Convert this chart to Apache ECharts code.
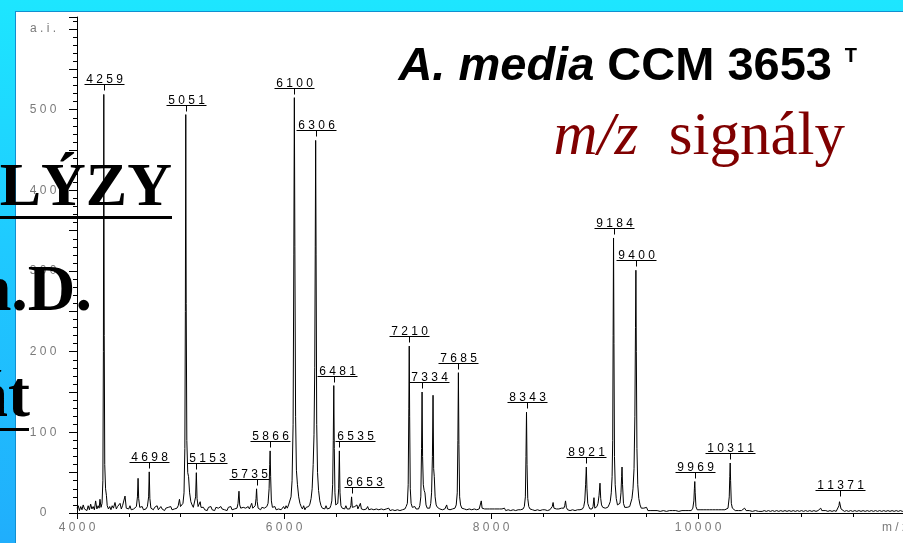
<!DOCTYPE html>
<html>
<head>
<meta charset="utf-8">
<script src="https://cdn.jsdelivr.net/npm/echarts@6.0.0/dist/echarts.min.js"></script>
<style>
  html, body { margin: 0; padding: 0; }
  #frame { position: absolute; left: 0; top: 0; width: 903px; height: 543px; overflow: hidden;
           background: linear-gradient(to bottom, #1de6ff 0%, #1fcaff 45%, #20aefc 100%); }
  #panel { position: absolute; left: 15px; top: 11px; right: 0; bottom: 0; background: #fff;
           border-left: 1px solid #128fd0; border-top: 1px solid #128fd0; }
  #chart { position: absolute; left: 0; top: 0; width: 903px; height: 543px; }
</style>
</head>
<body>
<div id="frame"><div id="panel"></div></div>
<div id="chart"></div>
<script>
// x ticks, y ticks
const xTicks = [4000, 6000, 8000, 10000];
const yTicks = [0, 100, 200, 300, 400, 500];

// labelled peaks (m/z, intensity a.i.)
const peakMz = [4259, 4698, 5051, 5153, 5735, 5866, 6100, 6306, 6481, 6535, 6653,
                7210, 7334, 7685, 8343, 8921, 9184, 9400, 9969, 10311, 11371];
const peakIntensity = [519, 51, 494, 50, 30, 77, 515, 462, 158, 77, 20,
                       207, 150, 174, 125, 57, 341, 301, 39, 62, 16];

// whole trace: [m/z, a.i.]
const spectrum = [
  [4000, 6], [4012, 9], [4024, 3], [4036, 8], [4048, 4], [4060, 10], [4072, 5], [4084, 7],
  [4096, 3], [4108, 9], [4120, 4], [4132, 11], [4144, 5], [4156, 8], [4168, 4], [4180, 15],
  [4192, 5], [4204, 9], [4214, 6], [4222, 17], [4232, 7], [4242, 12], [4250, 40], [4255, 200],
  [4259, 519], [4263, 220], [4268, 60], [4276, 30], [4284, 22], [4292, 9], [4304, 5], [4316, 8],
  [4328, 4], [4340, 9], [4352, 6], [4367, 13], [4380, 5], [4392, 8], [4404, 6], [4416, 12],
  [4428, 5], [4440, 9], [4452, 7], [4464, 21], [4476, 6], [4488, 8], [4500, 5], [4512, 9],
  [4524, 4], [4536, 6], [4548, 5], [4560, 7], [4574, 8], [4584, 20], [4590, 43], [4596, 18],
  [4606, 7], [4618, 5], [4630, 8], [4642, 4], [4654, 6], [4666, 5], [4680, 8], [4692, 20],
  [4698, 51], [4704, 18], [4714, 6], [4726, 8], [4738, 4], [4750, 7], [4762, 5], [4774, 9],
  [4786, 4], [4798, 6], [4810, 8], [4822, 5], [4834, 7], [4846, 3], [4858, 6], [4870, 4],
  [4882, 7], [4894, 5], [4906, 8], [4918, 4], [4930, 6], [4942, 5], [4954, 7], [4966, 6],
  [4978, 9], [4990, 17], [5000, 8], [5012, 6], [5024, 12], [5034, 25], [5042, 80], [5047, 250],
  [5051, 494], [5055, 260], [5061, 90], [5070, 50], [5078, 45], [5088, 25], [5100, 14], [5112, 10],
  [5124, 7], [5136, 9], [5146, 20], [5153, 50], [5160, 18], [5170, 8], [5182, 10], [5190, 14],
  [5198, 7], [5210, 5], [5222, 7], [5234, 4], [5246, 6], [5258, 3], [5270, 7], [5282, 5],
  [5294, 8], [5306, 4], [5318, 6], [5330, 3], [5342, 7], [5354, 5], [5366, 6], [5378, 4],
  [5390, 8], [5402, 5], [5414, 7], [5426, 4], [5438, 6], [5450, 3], [5462, 7], [5474, 5],
  [5486, 8], [5498, 4], [5510, 6], [5522, 5], [5534, 7], [5546, 6], [5556, 12], [5565, 27],
  [5572, 10], [5582, 6], [5594, 4], [5606, 7], [5618, 5], [5630, 6], [5642, 4], [5654, 8],
  [5666, 5], [5678, 9], [5688, 12], [5698, 6], [5710, 5], [5722, 9], [5730, 18], [5735, 30],
  [5741, 14], [5750, 6], [5762, 8], [5774, 4], [5786, 7], [5798, 5], [5810, 6], [5822, 4],
  [5834, 8], [5846, 12], [5856, 30], [5862, 60], [5866, 77], [5871, 45], [5878, 15], [5888, 7],
  [5900, 5], [5912, 8], [5924, 4], [5936, 6], [5948, 5], [5960, 7], [5972, 4], [5984, 6],
  [5996, 8], [6008, 5], [6020, 9], [6032, 6], [6044, 10], [6056, 12], [6068, 20], [6078, 40],
  [6088, 110], [6095, 320], [6100, 515], [6105, 330], [6112, 120], [6120, 53], [6130, 35], [6142, 20],
  [6154, 12], [6166, 8], [6178, 5], [6190, 9], [6202, 4], [6214, 7], [6226, 5], [6238, 8],
  [6250, 11], [6262, 18], [6272, 30], [6282, 60], [6290, 97], [6297, 180], [6302, 330], [6306, 462],
  [6310, 320], [6316, 110], [6324, 50], [6334, 28], [6346, 15], [6358, 9], [6370, 6], [6382, 8],
  [6394, 5], [6406, 9], [6418, 5], [6430, 7], [6442, 6], [6452, 9], [6462, 15], [6470, 35],
  [6476, 90], [6481, 158], [6486, 80], [6492, 25], [6500, 10], [6510, 8], [6520, 12], [6528, 30],
  [6535, 77], [6541, 25], [6550, 9], [6562, 6], [6574, 8], [6586, 5], [6598, 9], [6610, 5],
  [6622, 7], [6634, 5], [6646, 9], [6653, 20], [6660, 7], [6672, 5], [6684, 8], [6696, 6],
  [6705, 10], [6714, 5], [6726, 6], [6738, 12], [6748, 5], [6760, 7], [6772, 4], [6784, 6],
  [6796, 5], [6808, 8], [6820, 4], [6832, 6], [6844, 5], [6856, 7], [6868, 4], [6880, 6],
  [6892, 5], [6904, 7], [6916, 4], [6928, 6], [6940, 5], [6952, 7], [6964, 4], [6976, 6],
  [6988, 5], [7000, 4], [7012, 6], [7024, 3], [7036, 5], [7048, 4], [7060, 6], [7072, 3],
  [7084, 5], [7096, 4], [7108, 6], [7120, 3], [7132, 5], [7144, 4], [7156, 6], [7168, 5],
  [7180, 8], [7192, 12], [7200, 35], [7206, 130], [7210, 207], [7214, 120], [7220, 30], [7228, 12],
  [7240, 7], [7252, 5], [7264, 8], [7276, 5], [7288, 6], [7300, 5], [7312, 9], [7322, 20],
  [7329, 80], [7334, 150], [7339, 70], [7346, 35], [7354, 28], [7362, 25], [7372, 10], [7384, 6],
  [7396, 8], [7408, 6], [7418, 12], [7426, 25], [7434, 70], [7440, 146], [7446, 55], [7452, 45],
  [7460, 20], [7470, 10], [7482, 7], [7494, 9], [7506, 5], [7518, 7], [7530, 4], [7542, 6],
  [7554, 5], [7564, 7], [7572, 10], [7580, 5], [7592, 6], [7604, 4], [7616, 6], [7628, 5],
  [7640, 7], [7652, 6], [7664, 10], [7674, 25], [7680, 90], [7685, 174], [7690, 85], [7697, 20],
  [7706, 10], [7718, 6], [7730, 8], [7742, 5], [7754, 7], [7766, 4], [7778, 6], [7790, 5],
  [7802, 7], [7814, 4], [7826, 6], [7838, 5], [7850, 7], [7862, 4], [7874, 6], [7886, 5],
  [7898, 7], [7906, 15], [7914, 6], [7926, 4], [7938, 5], [7950, 3], [7962, 5], [7974, 4],
  [7986, 5], [7998, 3], [8010, 5], [8022, 4], [8034, 5], [8046, 3], [8058, 5], [8070, 4],
  [8082, 5], [8094, 3], [8106, 5], [8118, 4], [8130, 6], [8142, 3], [8154, 5], [8166, 4],
  [8178, 5], [8190, 3], [8202, 5], [8214, 4], [8226, 6], [8238, 3], [8250, 5], [8262, 4],
  [8274, 5], [8286, 4], [8298, 6], [8310, 5], [8322, 8], [8332, 20], [8338, 70], [8343, 125],
  [8348, 60], [8355, 18], [8365, 8], [8377, 5], [8389, 6], [8401, 4], [8413, 5], [8425, 3],
  [8437, 5], [8449, 4], [8461, 6], [8473, 3], [8485, 5], [8497, 4], [8509, 6], [8521, 4],
  [8533, 5], [8545, 3], [8557, 5], [8569, 4], [8581, 6], [8592, 8], [8600, 13], [8608, 6],
  [8620, 4], [8632, 5], [8644, 3], [8656, 5], [8668, 4], [8680, 6], [8692, 5], [8704, 6],
  [8712, 9], [8720, 15], [8728, 7], [8740, 4], [8752, 5], [8764, 3], [8776, 5], [8788, 4],
  [8800, 6], [8812, 3], [8824, 5], [8836, 4], [8848, 5], [8860, 4], [8872, 6], [8884, 5],
  [8896, 8], [8906, 15], [8914, 35], [8921, 57], [8927, 30], [8935, 12], [8945, 8], [8956, 5],
  [8966, 7], [8976, 5], [8986, 8], [8995, 19], [9003, 6], [9013, 5], [9024, 8], [9034, 12],
  [9044, 22], [9053, 37], [9060, 18], [9068, 10], [9080, 7], [9092, 9], [9104, 6], [9116, 8],
  [9128, 7], [9140, 10], [9152, 14], [9162, 25], [9170, 45], [9176, 90], [9180, 220], [9184, 341],
  [9188, 210], [9193, 70], [9200, 35], [9210, 18], [9222, 10], [9234, 8], [9246, 12], [9256, 25],
  [9262, 45], [9266, 57], [9271, 35], [9280, 12], [9292, 7], [9304, 5], [9316, 7], [9328, 6],
  [9340, 8], [9352, 10], [9362, 18], [9372, 30], [9382, 55], [9390, 120], [9396, 230], [9400, 301],
  [9404, 200], [9410, 80], [9418, 35], [9428, 18], [9440, 10], [9452, 6], [9464, 4], [9476, 6],
  [9490, 4], [9503, 7], [9516, 3], [9530, 5], [9545, 3], [9560, 4], [9575, 3], [9590, 5],
  [9605, 3], [9620, 4], [9635, 2], [9650, 4], [9665, 3], [9680, 4], [9695, 2], [9710, 4],
  [9725, 3], [9740, 4], [9755, 3], [9770, 5], [9785, 3], [9800, 4], [9815, 2], [9830, 4],
  [9845, 3], [9860, 4], [9875, 3], [9890, 4], [9905, 3], [9920, 4], [9935, 3], [9950, 6],
  [9960, 15], [9965, 30], [9969, 39], [9973, 25], [9980, 8], [9992, 4], [10005, 3], [10020, 4],
  [10035, 3], [10050, 4], [10065, 2], [10080, 4], [10095, 3], [10110, 4], [10125, 3], [10140, 4],
  [10155, 2], [10170, 4], [10185, 3], [10200, 4], [10215, 3], [10230, 4], [10245, 3], [10260, 4],
  [10275, 3], [10290, 6], [10302, 20], [10307, 45], [10311, 62], [10315, 40], [10322, 12], [10332, 6],
  [10345, 4], [10360, 3], [10375, 5], [10390, 3], [10405, 4], [10420, 3], [10435, 5], [10450, 6],
  [10465, 3], [10480, 4], [10495, 3], [10510, 4], [10525, 2], [10540, 4], [10555, 3], [10570, 4],
  [10585, 2], [10600, 3], [10620, 2], [10640, 3], [10660, 2], [10680, 3], [10700, 2], [10720, 3],
  [10740, 2], [10760, 3], [10780, 2], [10800, 3], [10820, 2], [10840, 3], [10860, 2], [10880, 3],
  [10900, 2], [10920, 3], [10940, 2], [10960, 3], [10980, 2], [11000, 3], [11020, 2], [11040, 3],
  [11060, 2], [11080, 3], [11100, 2], [11120, 3], [11140, 2], [11160, 3], [11176, 4], [11186, 6],
  [11196, 3], [11215, 2], [11235, 3], [11255, 2], [11275, 3], [11295, 2], [11315, 3], [11335, 2],
  [11352, 4], [11362, 9], [11367, 14], [11371, 16], [11375, 12], [11382, 5], [11395, 3], [11415, 2],
  [11435, 3], [11455, 2], [11475, 3], [11495, 2], [11515, 3], [11535, 2], [11555, 3], [11575, 2],
  [11595, 3], [11615, 2], [11635, 3], [11655, 2], [11675, 3], [11695, 2], [11715, 3], [11735, 2],
  [11755, 3], [11775, 2], [11795, 3], [11815, 2], [11835, 3], [11855, 2], [11875, 3], [11895, 2],
  [11915, 3], [11935, 2], [11955, 3], [11975, 2], [11995, 3]
];

// labels that sit beside their peak instead of centred on it (px)
const labelNudge = { 5153: 11, 5735: -8, 6481: 3, 6535: 16, 6653: 12, 7334: 7 };

const spaced = v => String(v).split('').join(' ');
const sans = '"Liberation Sans", Arial, sans-serif';
const serif = '"Liberation Serif", "Times New Roman", serif';

const chart = echarts.init(document.getElementById('chart'));

const option = {
  animation: false,
  backgroundColor: 'transparent',
  grid: { left: 77, top: 17, width: 828, height: 496, outerBoundsMode: 'none' },
  xAxis: {
    type: 'value',
    min: 4000,
    max: 12000,
    interval: 2000,
    axisLine: { show: true, lineStyle: { color: '#000', width: 1 } },
    axisTick: { show: true, length: 6, lineStyle: { color: '#000' } },
    minorTick: { show: true, splitNumber: 4, length: 4, lineStyle: { color: '#000' } },
    splitLine: { show: false },
    axisLabel: {
      color: '#7a7a7a', fontSize: 12, fontFamily: sans, margin: 9,
      formatter: v => (xTicks.includes(v) ? spaced(v) : '')
    }
  },
  yAxis: {
    type: 'value',
    min: 0,
    max: 615,
    interval: 50,
    axisLine: { show: true, lineStyle: { color: '#000', width: 1 } },
    axisTick: { show: true, length: 8, lineStyle: { color: '#000' } },
    minorTick: { show: true, splitNumber: 5, length: 4, lineStyle: { color: '#000' } },
    splitLine: { show: false },
    axisLabel: {
      color: '#7a7a7a', fontSize: 12, fontFamily: sans, margin: 34, align: 'center',
      formatter: v => (v === 600 ? 'a . i .' : (yTicks.includes(v) ? spaced(v) : ''))
    }
  },
  series: [
    {
      name: 'spectrum',
      type: 'line',
      data: spectrum,
      symbol: 'none',
      silent: true,
      lineStyle: { color: '#000', width: 1 },
      z: 3
    },
    {
      name: 'peak labels',
      type: 'custom',
      data: peakMz.map((m, i) => [m, peakIntensity[i]]),
      clip: false,
      silent: true,
      z: 4,
      renderItem: (params, api) => {
        const mz = api.value(0);
        const p = api.coord([mz, api.value(1)]);
        const x = Math.round(p[0]) + 0.5;
        const ly = Math.round(p[1]) - 10 + 0.5;
        const w = String(mz).length * 10;
        const cx = x + (labelNudge[mz] || 0);
        return {
          type: 'group',
          children: [
            { type: 'line', shape: { x1: cx - w / 2, y1: ly, x2: cx + w / 2, y2: ly },
              style: { stroke: '#000', lineWidth: 1 } },
            { type: 'line', shape: { x1: x, y1: ly, x2: x, y2: ly + 6 },
              style: { stroke: '#000', lineWidth: 1 } },
            { type: 'text', style: { text: spaced(mz), x: cx, y: ly + 1, align: 'center',
              verticalAlign: 'bottom', font: '12px ' + sans, fill: '#000' } }
          ]
        };
      }
    }
  ],
  graphic: [
    { type: 'text', z: 50, style: { text: 'm / z', x: 882, y: 528, verticalAlign: 'middle',
      font: '12px ' + sans, fill: '#7a7a7a' } },
    // title
    { type: 'text', z: 50, style: {
      text: '{i|A. media} {b|CCM 3653}', x: 832, y: 67, align: 'right', verticalAlign: 'middle',
      fontSize: 47, fontWeight: 'bold', fontFamily: sans, fill: '#000',
      rich: {
        i: { fontStyle: 'italic', fontWeight: 'bold', fontSize: 47, fontFamily: sans, fill: '#000' },
        b: { fontWeight: 'bold', fontSize: 47, fontFamily: sans, fill: '#000' }
      } } },
    { type: 'text', z: 50, style: { text: 'T', x: 857, y: 56, align: 'right', verticalAlign: 'middle',
      font: 'bold 20px ' + sans, fill: '#000' } },
    { type: 'text', z: 50, style: {
      text: '{i|m/z}  {n|signály}', x: 845, y: 138, align: 'right', verticalAlign: 'middle',
      fontSize: 61, fontFamily: serif, fill: '#800000',
      rich: {
        i: { fontStyle: 'italic', fontSize: 61, fontFamily: serif, fill: '#800000' },
        n: { fontSize: 61, fontFamily: serif, fill: '#800000' }
      } } },
    // slide text lying over the picture
    { type: 'text', z: 60, style: { text: 'ANALÝZY', x: 172, y: 189, align: 'right', verticalAlign: 'middle',
      font: 'bold 62px ' + serif, fill: '#000' } },
    { type: 'rect', z: 60, shape: { x: 0, y: 216, width: 172, height: 3 }, style: { fill: '#000' } },
    { type: 'text', z: 60, style: { text: 'Ph.D.', x: 92, y: 293, align: 'right', verticalAlign: 'middle',
      font: 'bold 66px ' + serif, fill: '#000' } },
    { type: 'text', z: 60, style: { text: 'át', x: 30, y: 399, align: 'right', verticalAlign: 'middle',
      font: 'bold 66px ' + serif, fill: '#000' } },
    { type: 'rect', z: 60, shape: { x: 0, y: 428, width: 29, height: 3 }, style: { fill: '#000' } }
  ]
};

chart.setOption(option);
</script>
</body>
</html>
